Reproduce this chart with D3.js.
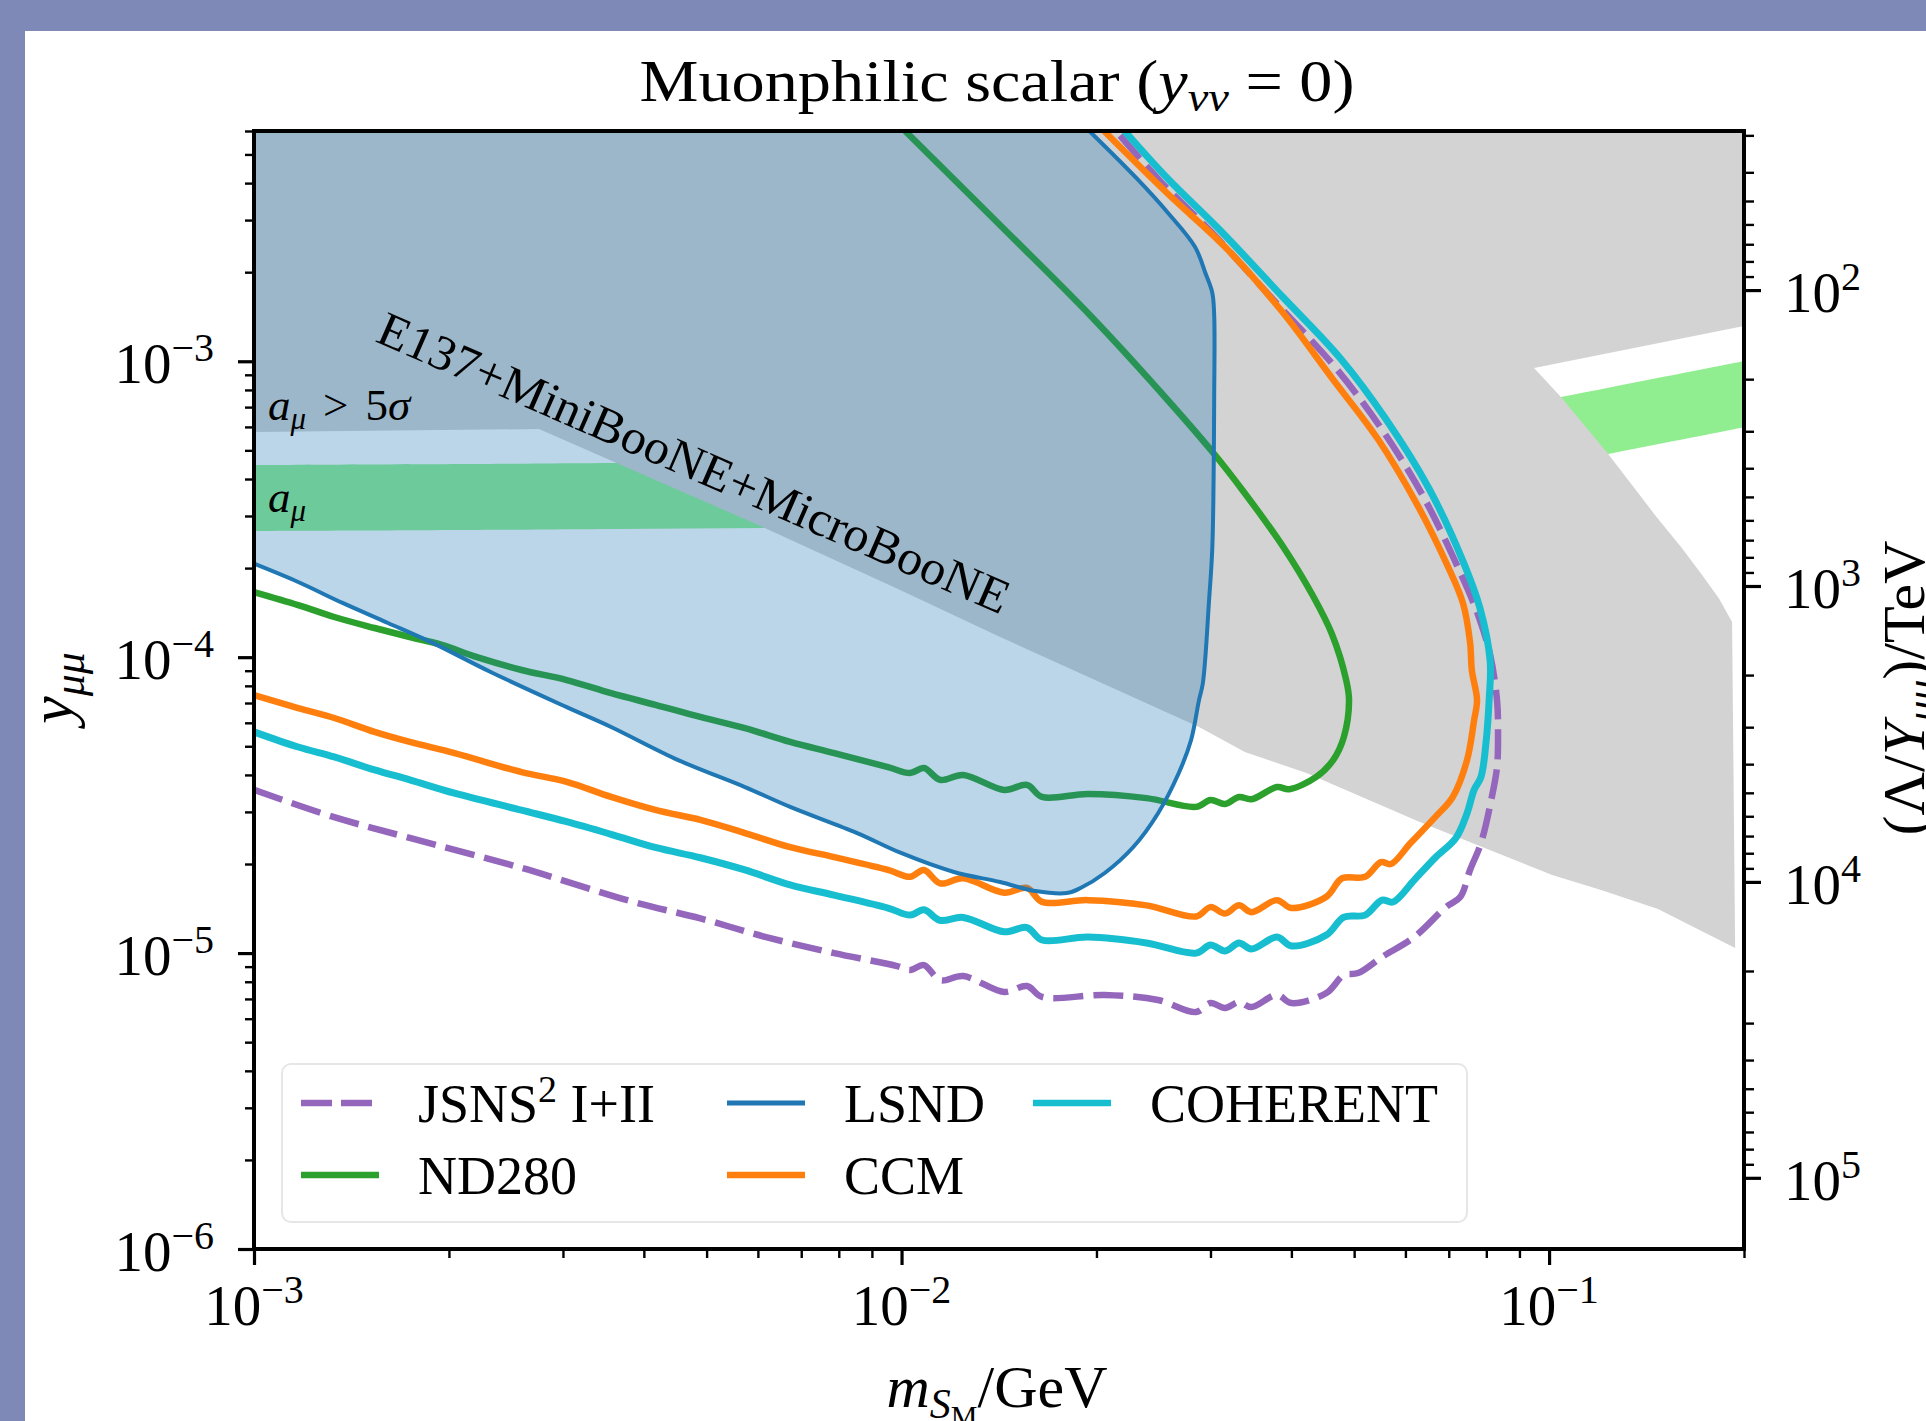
<!DOCTYPE html>
<html>
<head>
<meta charset="utf-8">
<script src="https://cdn.jsdelivr.net/npm/d3@7"></script>
<style>
  body { margin: 0; background: #7e89b7; }
  svg { display: block; }
  text { font-family: "Liberation Serif", "DejaVu Serif", serif; fill: #000; white-space: pre; }
</style>
</head>
<body>
<svg id="chart"></svg>
<script>
// ---- data: [m_S (GeV), y_mumu] ----
const jsnsCurve = [
  [1.0e-3, 3.56e-5], [1.33e-3, 2.88e-5], [1.74e-3, 2.45e-5], [2.59e-3, 1.94e-5], [3.85e-3, 1.49e-5],
  [4.89e-3, 1.31e-5], [6.20e-3, 1.13e-5], [7.87e-3, 1.0e-5], [9.84e-3, 9.04e-6], [1.031e-2, 8.77e-6],
  [1.083e-2, 9.11e-6], [1.147e-2, 8.10e-6], [1.245e-2, 8.36e-6], [1.44e-2, 7.39e-6], [1.562e-2, 7.74e-6],
  [1.648e-2, 7.11e-6], [2.06e-2, 7.22e-6], [2.49e-2, 6.94e-6], [2.85e-2, 6.32e-6], [3.0e-2, 6.78e-6],
  [3.16e-2, 6.52e-6], [3.32e-2, 6.83e-6], [3.47e-2, 6.57e-6], [3.80e-2, 7.22e-6], [4.0e-2, 6.78e-6],
  [4.53e-2, 7.33e-6], [4.82e-2, 8.43e-6], [5.07e-2, 8.56e-6], [5.52e-2, 9.70e-6], [6.19e-2, 1.133e-5],
  [6.93e-2, 1.43e-5], [7.29e-2, 1.547e-5], [7.55e-2, 1.909e-5], [7.85e-2, 2.355e-5], [8.14e-2, 3.29e-5],
  [8.31e-2, 4.25e-5], [8.34e-2, 5.54e-5], [8.31e-2, 7.16e-5], [8.11e-2, 1.017e-4], [7.77e-2, 1.388e-4],
  [7.24e-2, 2.0e-4], [6.39e-2, 3.5e-4], [5.5e-2, 5.95e-4], [4.67e-2, 9.56e-4], [3.79e-2, 1.573e-3],
  [3.02e-2, 2.713e-3], [2.525e-2, 4.0e-3], [2.145e-2, 6.0e-3]
];
const nd280Curve = [
  [1.0e-3, 1.66e-4], [1.17e-3, 1.50e-4], [1.33e-3, 1.367e-4], [1.535e-3, 1.255e-4], [1.74e-3, 1.17e-4],
  [1.95e-3, 1.10e-4], [2.21e-3, 1.0e-4], [2.59e-3, 9.05e-5], [3.04e-3, 8.37e-5], [3.56e-3, 7.56e-5],
  [4.18e-3, 6.89e-5], [4.89e-3, 6.28e-5], [5.73e-3, 5.76e-5], [6.73e-3, 5.17e-5], [7.87e-3, 4.74e-5],
  [9.53e-3, 4.25e-5], [1.031e-2, 4.06e-5], [1.083e-2, 4.22e-5], [1.147e-2, 3.85e-5], [1.245e-2, 4.0e-5],
  [1.44e-2, 3.56e-5], [1.562e-2, 3.70e-5], [1.648e-2, 3.37e-5], [1.94e-2, 3.45e-5], [2.39e-2, 3.34e-5],
  [2.85e-2, 3.12e-5], [3.0e-2, 3.29e-5], [3.16e-2, 3.19e-5], [3.32e-2, 3.37e-5], [3.47e-2, 3.31e-5],
  [3.80e-2, 3.64e-5], [3.97e-2, 3.58e-5], [4.37e-2, 3.94e-5], [4.64e-2, 4.49e-5], [4.82e-2, 5.37e-5],
  [4.91e-2, 7.16e-5], [4.86e-2, 8.37e-5], [4.62e-2, 1.197e-4], [4.32e-2, 1.609e-4], [3.88e-2, 2.37e-4],
  [3.38e-2, 3.61e-4], [3.04e-2, 4.86e-4], [2.58e-2, 7.37e-4], [1.96e-2, 1.422e-3], [1.455e-2, 2.735e-3],
  [1.013e-2, 6.0e-3]
];
const ccmCurve = [
  [1.0e-3, 7.45e-5], [1.17e-3, 6.73e-5], [1.33e-3, 6.23e-5], [1.535e-3, 5.59e-5], [1.74e-3, 5.17e-5],
  [2.04e-3, 4.74e-5], [2.59e-3, 4.09e-5], [3.04e-3, 3.79e-5], [3.56e-3, 3.37e-5], [4.18e-3, 3.04e-5],
  [4.89e-3, 2.82e-5], [5.73e-3, 2.545e-5], [6.73e-3, 2.28e-5], [7.87e-3, 2.11e-5], [9.53e-3, 1.91e-5],
  [1.031e-2, 1.81e-5], [1.083e-2, 1.91e-5], [1.147e-2, 1.72e-5], [1.245e-2, 1.79e-5], [1.44e-2, 1.60e-5],
  [1.562e-2, 1.66e-5], [1.648e-2, 1.49e-5], [1.94e-2, 1.51e-5], [2.39e-2, 1.45e-5], [2.85e-2, 1.33e-5],
  [3.0e-2, 1.43e-5], [3.16e-2, 1.36e-5], [3.32e-2, 1.45e-5], [3.47e-2, 1.375e-5], [3.80e-2, 1.51e-5],
  [4.0e-2, 1.42e-5], [4.53e-2, 1.55e-5], [4.79e-2, 1.79e-5], [5.20e-2, 1.81e-5], [5.50e-2, 2.03e-5],
  [5.70e-2, 2.0e-5], [6.11e-2, 2.355e-5], [6.67e-2, 2.88e-5], [7.10e-2, 3.37e-5], [7.47e-2, 4.49e-5],
  [7.66e-2, 6.13e-5], [7.74e-2, 7.16e-5], [7.6e-2, 9.0e-5], [7.55e-2, 1.125e-4], [7.36e-2, 1.525e-4],
  [6.96e-2, 2.05e-4], [6.25e-2, 3.29e-4], [5.44e-2, 5.46e-4], [4.62e-2, 8.78e-4], [3.88e-2, 1.462e-3],
  [3.16e-2, 2.432e-3], [2.58e-2, 3.675e-3], [2.055e-2, 6.0e-3]
];
const coherentCurve = [
  [1.0e-3, 5.59e-5], [1.17e-3, 4.97e-5], [1.33e-3, 4.60e-5], [1.535e-3, 4.16e-5], [1.74e-3, 3.85e-5],
  [2.04e-3, 3.47e-5], [2.59e-3, 3.04e-5], [3.04e-3, 2.78e-5], [3.56e-3, 2.52e-5], [4.18e-3, 2.27e-5],
  [4.89e-3, 2.10e-5], [5.73e-3, 1.91e-5], [6.73e-3, 1.70e-5], [7.87e-3, 1.57e-5], [9.53e-3, 1.42e-5],
  [1.031e-2, 1.344e-5], [1.083e-2, 1.40e-5], [1.147e-2, 1.29e-5], [1.245e-2, 1.32e-5], [1.44e-2, 1.18e-5],
  [1.562e-2, 1.22e-5], [1.648e-2, 1.107e-5], [1.94e-2, 1.133e-5], [2.39e-2, 1.082e-5], [2.85e-2, 1.0e-5],
  [3.0e-2, 1.065e-5], [3.16e-2, 1.016e-5], [3.32e-2, 1.082e-5], [3.47e-2, 1.032e-5], [3.80e-2, 1.133e-5],
  [4.0e-2, 1.057e-5], [4.53e-2, 1.151e-5], [4.82e-2, 1.323e-5], [5.20e-2, 1.344e-5], [5.52e-2, 1.511e-5],
  [5.74e-2, 1.488e-5], [6.19e-2, 1.765e-5], [6.67e-2, 2.10e-5], [7.18e-2, 2.45e-5], [7.47e-2, 2.97e-5],
  [7.66e-2, 3.56e-5], [7.85e-2, 3.94e-5], [7.99e-2, 5.13e-5], [8.08e-2, 7.16e-5], [8.11e-2, 9.70e-5],
  [7.82e-2, 1.466e-4], [7.37e-2, 2.10e-4], [6.53e-2, 3.70e-4], [5.61e-2, 6.33e-4], [4.77e-2, 1.018e-3],
  [3.88e-2, 1.649e-3], [3.08e-2, 2.82e-3], [2.58e-2, 4.13e-3], [2.21e-2, 6.0e-3]
];
const lsndCurve = [
  [1.0e-3, 2.07e-4], [1.17e-3, 1.795e-4], [1.37e-3, 1.525e-4], [1.61e-3, 1.305e-4], [1.89e-3, 1.116e-4],
  [2.32e-3, 8.91e-5], [3.04e-3, 6.78e-5], [3.56e-3, 5.81e-5], [4.52e-3, 4.49e-5], [5.73e-3, 3.64e-5],
  [6.73e-3, 3.12e-5], [8.54e-3, 2.545e-5], [9.98e-3, 2.18e-5], [1.205e-2, 1.88e-5], [1.42e-2, 1.738e-5],
  [1.61e-2, 1.62e-5], [1.80e-2, 1.595e-5], [1.89e-2, 1.659e-5], [2.06e-2, 1.865e-5], [2.28e-2, 2.283e-5],
  [2.49e-2, 2.97e-5], [2.68e-2, 4.06e-5], [2.80e-2, 5.25e-5], [2.88e-2, 7.16e-5], [2.92e-2, 8.18e-5],
  [2.985e-2, 1.561e-4], [3.02e-2, 2.37e-4], [3.04e-2, 7.81e-4], [3.04e-2, 1.422e-3], [3.02e-2, 1.70e-3],
  [2.95e-2, 1.972e-3], [2.84e-2, 2.432e-3], [2.58e-2, 3.17e-3], [2.31e-2, 4.14e-3], [1.95e-2, 6.0e-3]
];
// E137 + MiniBooNE + MicroBooNE and a_mu > 5 sigma, one grey polygon
const grayRegion = [
  [1e-3, 6e-3], [0.2, 6e-3], [0.2, 1.316e-3], [9.48e-2, 9.49e-4], [0.1043, 7.57e-4], [0.1234, 4.86e-4],
  [0.1458, 3.02e-4], [0.1600, 2.35e-4], [0.1723, 1.895e-4], [0.1830, 1.58e-4], [0.1917, 1.315e-4],
  [0.1938, 1.04e-5], [0.1473, 1.408e-5],
  [0.1203, 1.633e-5], [0.1011, 1.836e-5], [6.34e-2, 2.76e-5], [4.22e-2, 4.06e-5], [3.39e-2, 4.78e-5],
  [2.88e-2, 5.81e-5], [1.42e-2, 1.17e-4], [9.95e-3, 1.686e-4], [6.0e-3, 2.80e-4], [2.755e-3, 5.90e-4],
  [1e-3, 5.77e-4]
];
// a_mu preferred band
const amuMass  = [1e-3, 3.61e-3, 9.95e-3, 2.03e-2, 4.125e-2, 7.03e-2, 0.1043, 0.2];
const amuUpper = [4.46e-4, 4.53e-4, 4.64e-4, 4.94e-4, 5.50e-4, 6.43e-4, 7.57e-4, 1.002e-3];
const amuLower = [2.67e-4, 2.71e-4, 2.78e-4, 2.95e-4, 3.29e-4, 3.85e-4, 4.53e-4, 5.99e-4];

// ticks
const xTickValues = [1e-3, 1e-2, 1e-1];
const xTickExps = ["\u22123", "\u22122", "\u22121"];
const yTickValues = [1e-6, 1e-5, 1e-4, 1e-3];
const yTickExps = ["\u22126", "\u22125", "\u22124", "\u22123"];
const rTickValues = [1e2, 1e3, 1e4, 1e5];
const rTickExps = ["2", "3", "4", "5"];

const legendNames = ["JSNS", "ND280", "LSND", "CCM", "COHERENT"];

const K_TEV = 0.174; // v/sqrt(2) in TeV : Lambda/Y = K / y

// ---- set up ----
const W = 1926, H = 1421;
const L = 254, R = 1744, T = 131, B = 1249;

const svg = d3.select("#chart").attr("width", W).attr("height", H);
svg.append("rect").attr("x", 25).attr("y", 31).attr("width", W - 25).attr("height", H - 31).attr("fill", "#fff");

const x = d3.scaleLog().domain([1e-3, 0.2]).range([L, R]);
const y = d3.scaleLog().domain([1e-6, 6e-3]).range([B, T]);
const yR = d3.scaleLog().domain([K_TEV / 6e-3, K_TEV / 1e-6]).range([T, B]);

svg.append("clipPath").attr("id", "plotclip")
  .append("rect").attr("x", L).attr("y", T).attr("width", R - L).attr("height", B - T);
const plotG = svg.append("g").attr("clip-path", "url(#plotclip)");

// band
const band = d3.area()
  .x(d => x(d.m)).y0(d => y(d.lo)).y1(d => y(d.hi))
  .curve(d3.curveCatmullRom.alpha(0.5));
plotG.append("path")
  .datum(amuMass.map((m, i) => ({ m: m, lo: amuLower[i], hi: amuUpper[i] })))
  .attr("d", band).attr("fill", "#90ee90");

// grey exclusion
const straight = d3.line().x(d => x(d[0])).y(d => y(d[1]));
plotG.append("path").datum(grayRegion).attr("d", d => straight(d) + "Z").attr("fill", "#d3d3d3");

// sensitivity curves
const smooth = d3.line().x(d => x(d[0])).y(d => y(d[1])).curve(d3.curveCatmullRom.alpha(0.5));
const curves = [
  { data: jsnsCurve, color: "#9467bd", w: 6.5, dash: "30 10" },
  { data: nd280Curve, color: "#2ca02c", w: 6.5, dash: null },
  { data: ccmCurve, color: "#ff7f0e", w: 6.5, dash: null },
  { data: coherentCurve, color: "#17becf", w: 7, dash: null }
];
curves.forEach(c => {
  plotG.append("path").datum(c.data).attr("d", smooth)
    .attr("fill", "none").attr("stroke", c.color).attr("stroke-width", c.w)
    .attr("stroke-linejoin", "round")
    .attr("stroke-dasharray", c.dash);
});

// LSND region (drawn on top, translucent)
plotG.append("path").datum(lsndCurve)
  .attr("d", d => smooth(d) + "L" + x(1e-3) + "," + y(6e-3) + "Z")
  .attr("fill", "#1f77b4").attr("fill-opacity", 0.3);
plotG.append("path").datum(lsndCurve).attr("d", smooth)
  .attr("fill", "none").attr("stroke", "#1f77b4").attr("stroke-width", 4);

// ---- text helper ----
function mathText(sel, parts) {
  let prev = 0;
  parts.forEach(p => {
    const sh = p.sh || 0;
    sel.append("tspan")
      .attr("dy", sh - prev)
      .attr("dx", p.dx || 0)
      .style("font-size", p.fs + "px")
      .style("font-style", p.it ? "italic" : "normal")
      .text(p.t);
    prev = sh;
  });
  return sel;
}

// annotations
svg.append("text")
  .attr("transform", "translate(374,341) rotate(23.6)")
  .attr("textLength", 684).attr("lengthAdjust", "spacingAndGlyphs")
  .style("font-size", "49px")
  .text("E137+MiniBooNE+MicroBooNE");

mathText(svg.append("text").attr("x", 268).attr("y", 420), [
  { t: "a", fs: 45, it: true }, { t: "\u03bc", fs: 31, sh: 9, it: true },
  { t: ">", fs: 45, dx: 17 }, { t: "5", fs: 45, dx: 17 }, { t: "\u03c3", fs: 45, it: true }
]);
mathText(svg.append("text").attr("x", 268).attr("y", 512), [
  { t: "a", fs: 45, it: true }, { t: "\u03bc", fs: 31, sh: 9, it: true }
]);

// ---- axes ticks ----
const isMinor = v => Math.abs(Math.log10(v) - Math.round(Math.log10(v))) > 1e-6;
function styleTicks(g, w) {
  g.select(".domain").remove();
  g.selectAll("line").attr("stroke", "#000").attr("stroke-width", w);
}
svg.append("g").attr("transform", `translate(0,${B})`)
  .call(d3.axisBottom(x).tickValues(x.ticks().filter(isMinor)).tickSize(9).tickFormat(""))
  .call(g => styleTicks(g, 2.4));
svg.append("g").attr("transform", `translate(0,${B})`)
  .call(d3.axisBottom(x).tickValues(xTickValues).tickSize(16).tickFormat(""))
  .call(g => styleTicks(g, 3.2));
svg.append("g").attr("transform", `translate(${L},0)`)
  .call(d3.axisLeft(y).tickValues(y.ticks().filter(isMinor)).tickSize(9).tickFormat(""))
  .call(g => styleTicks(g, 2.4));
svg.append("g").attr("transform", `translate(${L},0)`)
  .call(d3.axisLeft(y).tickValues(yTickValues).tickSize(16).tickFormat(""))
  .call(g => styleTicks(g, 3.2));
svg.append("g").attr("transform", `translate(${R},0)`)
  .call(d3.axisRight(yR).tickValues(yR.ticks().filter(isMinor)).tickSize(10).tickFormat(""))
  .call(g => styleTicks(g, 2.4));
svg.append("g").attr("transform", `translate(${R},0)`)
  .call(d3.axisRight(yR).tickValues(rTickValues).tickSize(17).tickFormat(""))
  .call(g => styleTicks(g, 3.2));

// spines
svg.append("rect").attr("x", L).attr("y", T).attr("width", R - L).attr("height", B - T)
  .attr("fill", "none").attr("stroke", "#000").attr("stroke-width", 4);

// tick labels
const TF = 57, SF = 40, RAISE = 22;
xTickValues.forEach((v, i) => {
  mathText(svg.append("text").attr("x", x(v)).attr("y", 1325).attr("text-anchor", "middle"), [
    { t: "10", fs: TF }, { t: xTickExps[i], fs: SF, sh: -RAISE }
  ]);
});
yTickValues.forEach((v, i) => {
  mathText(svg.append("text").attr("x", 214).attr("y", y(v) + RAISE).attr("text-anchor", "end"), [
    { t: "10", fs: TF }, { t: yTickExps[i], fs: SF, sh: -RAISE }
  ]);
});
rTickValues.forEach((v, i) => {
  mathText(svg.append("text").attr("x", 1784).attr("y", yR(v) + RAISE).attr("text-anchor", "start"), [
    { t: "10", fs: TF }, { t: rTickExps[i], fs: SF, sh: -RAISE }
  ]);
});

// title and axis labels
mathText(svg.append("text").attr("x", 997).attr("y", 101).attr("text-anchor", "middle")
  .attr("textLength", 715).attr("lengthAdjust", "spacingAndGlyphs"), [
  { t: "Muonphilic scalar (", fs: 60 }, { t: "y", fs: 60, it: true },
  { t: "\u03bd\u03bd", fs: 42, sh: 10, it: true }, { t: " = 0)", fs: 60 }
]);
mathText(svg.append("text").attr("x", 997).attr("y", 1407).attr("text-anchor", "middle"), [
  { t: "m", fs: 60, it: true }, { t: "S", fs: 42, sh: 11, it: true },
  { t: "M", fs: 30, sh: 19 }, { t: "/GeV", fs: 60 }
]);
mathText(svg.append("text").attr("transform", "translate(72,688) rotate(-90)").attr("text-anchor", "middle"), [
  { t: "y", fs: 62, it: true }, { t: "\u03bc\u03bc", fs: 44, sh: 12, it: true }
]);
mathText(svg.append("text").attr("transform", "translate(1924,688) rotate(-90)").attr("text-anchor", "middle"), [
  { t: "(\u039b/", fs: 60 }, { t: "Y", fs: 60, it: true },
  { t: "\u03bc\u03bc", fs: 42, sh: 11, it: true }, { t: ")/TeV", fs: 60 }
]);

// ---- legend ----
const legendStyle = [
  { color: "#9467bd", dash: "31 9", w: 6.5 },
  { color: "#2ca02c", dash: null, w: 6.5 },
  { color: "#1f77b4", dash: null, w: 5 },
  { color: "#ff7f0e", dash: null, w: 6.5 },
  { color: "#17becf", dash: null, w: 6.5 }
];
const colX = [301, 727, 1033], rowY = [1103, 1175];
svg.append("rect").attr("x", 282).attr("y", 1064).attr("width", 1185).attr("height", 158)
  .attr("rx", 9).attr("fill", "#fff").attr("fill-opacity", 0.8)
  .attr("stroke", "#e6e6e6").attr("stroke-width", 2);
legendNames.forEach((name, i) => {
  const cx = colX[Math.floor(i / 2)], cy = rowY[i % 2], st = legendStyle[i];
  svg.append("line").attr("x1", cx).attr("x2", cx + 78).attr("y1", cy).attr("y2", cy)
    .attr("stroke", st.color).attr("stroke-width", st.w).attr("stroke-dasharray", st.dash);
  const t = svg.append("text").attr("x", cx + 117).attr("y", cy + 19);
  if (i === 0) {
    mathText(t, [{ t: name, fs: 54 }, { t: "2", fs: 38, sh: -20 }, { t: " I+II", fs: 54 }]);
  } else {
    mathText(t, [{ t: name, fs: 54 }]);
  }
});
</script>
</body>
</html>
